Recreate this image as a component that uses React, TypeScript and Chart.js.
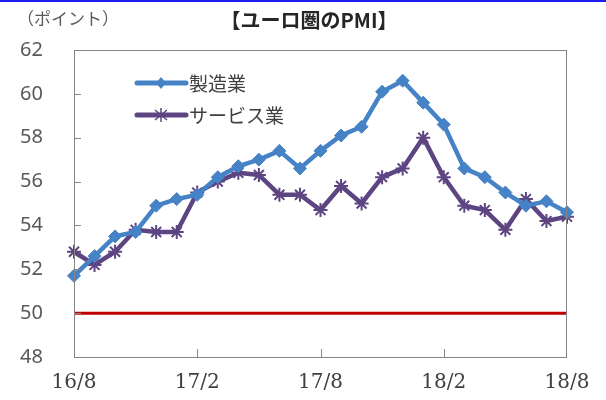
import React, { useEffect, useRef } from "react";
import { Chart, registerables } from "chart.js";

Chart.register(...registerables);

const categories = [
  "16/8", "16/9", "16/10", "16/11", "16/12",
  "17/1", "17/2", "17/3", "17/4", "17/5", "17/6", "17/7",
  "17/8", "17/9", "17/10", "17/11", "17/12",
  "18/1", "18/2", "18/3", "18/4", "18/5", "18/6", "18/7", "18/8",
];
const manufacturing = [
  51.7, 52.6, 53.5, 53.7, 54.9, 55.2, 55.4, 56.2, 56.7, 57.0, 57.4, 56.6,
  57.4, 58.1, 58.5, 60.1, 60.6, 59.6, 58.6, 56.6, 56.2, 55.5, 54.9, 55.1, 54.6,
];
const services = [
  52.8, 52.2, 52.8, 53.8, 53.7, 53.7, 55.5, 56.0, 56.4, 56.3, 55.4, 55.4,
  54.7, 55.8, 55.0, 56.2, 56.6, 58.0, 56.2, 54.9, 54.7, 53.8, 55.2, 54.2, 54.4,
];
const threshold = categories.map(() => 50);
const shownTickLabels = ["16/8", "17/2", "17/8", "18/2", "18/8"];
const seriesNames = ["製造業", "サービス業"];
const title = "【ユーロ圏のPMI】";
const unitLabel = "（ポイント）";

const BLUE = "#4583C6";
const PURPLE = "#5C4580";
const RED = "#C00000";
const JP = "'Noto Sans CJK JP', sans-serif";

const decorPlugin = {
  id: "decor",
  afterDraw(chart: any) {
    const ctx = chart.ctx;
    const a = chart.chartArea;
    const xs = chart.scales.x;
    const ys = chart.scales.y;
    ctx.save();
    // top blue rule
    ctx.fillStyle = "#1E1EF0";
    ctx.fillRect(0, 0, chart.width, 2);
    // frame
    ctx.strokeStyle = "#868686";
    ctx.lineWidth = 1;
    ctx.strokeRect(Math.round(a.left) + 0.5, Math.round(a.top) + 0.5,
      Math.round(a.right - a.left) - 1, Math.round(a.bottom - a.top));
    // inner y ticks
    ctx.beginPath();
    for (let v = 48; v <= 62; v += 2) {
      const y = Math.round(ys.getPixelForValue(v)) + 0.5;
      ctx.moveTo(a.left, y);
      ctx.lineTo(a.left + 7, y);
    }
    // inner x ticks
    categories.forEach((c, i) => {
      if (shownTickLabels.includes(c) && i !== 0 && i !== categories.length - 1) {
        const x = Math.round(xs.getPixelForValue(i)) + 0.5;
        ctx.moveTo(x, a.bottom);
        ctx.lineTo(x, a.bottom - 8);
      }
    });
    ctx.stroke();
    // title
    ctx.fillStyle = "#262626";
    ctx.font = `bold 20px ${JP}`;
    ctx.textAlign = "center";
    ctx.textBaseline = "middle";
    ctx.fillText(title, 309, 20);
    // unit
    ctx.fillStyle = "#595959";
    ctx.font = `17px ${JP}`;
    ctx.textAlign = "left";
    ctx.fillText(unitLabel, 17, 19);
    // legend
    const items = [
      { name: seriesNames[0], color: BLUE, y: 83, style: "diamond" },
      { name: seriesNames[1], color: PURPLE, y: 115, style: "star" },
    ];
    items.forEach((it) => {
      ctx.strokeStyle = it.color;
      ctx.lineWidth = 5;
      ctx.lineCap = "round";
      ctx.beginPath();
      ctx.moveTo(137, it.y);
      ctx.lineTo(186, it.y);
      ctx.stroke();
      const cx = 161;
      if (it.style === "diamond") {
        ctx.fillStyle = it.color;
        ctx.beginPath();
        ctx.moveTo(cx, it.y - 6);
        ctx.lineTo(cx + 5, it.y);
        ctx.lineTo(cx, it.y + 6);
        ctx.lineTo(cx - 5, it.y);
        ctx.closePath();
        ctx.fill();
      } else {
        ctx.lineWidth = 1.5;
        ctx.lineCap = "butt";
        ctx.strokeStyle = it.color;
        ctx.beginPath();
        ctx.moveTo(cx - 6, it.y - 5); ctx.lineTo(cx + 6, it.y + 5);
        ctx.moveTo(cx - 6, it.y + 5); ctx.lineTo(cx + 6, it.y - 5);
        ctx.moveTo(cx, it.y - 7); ctx.lineTo(cx, it.y + 7);
        ctx.stroke();
      }
      ctx.fillStyle = "#404040";
      ctx.font = `19px ${JP}`;
      ctx.textAlign = "left";
      ctx.textBaseline = "middle";
      ctx.fillText(it.name, 189, it.y + 1);
    });
    ctx.restore();
  },
};

export default function App() {
  const ref = useRef<HTMLCanvasElement | null>(null);
  useEffect(() => {
    if (!ref.current) return;
    const chart = new Chart(ref.current, {
      type: "line",
      data: {
        labels: categories,
        datasets: [
          {
            label: seriesNames[0],
            data: manufacturing,
            borderColor: BLUE,
            backgroundColor: BLUE,
            borderWidth: 4.5,
            pointStyle: "rectRot",
            pointRadius: 6.5,
            pointBorderWidth: 1,
            tension: 0,
          },
          {
            label: seriesNames[1],
            data: services,
            borderColor: PURPLE,
            backgroundColor: PURPLE,
            borderWidth: 4.5,
            pointStyle: "star",
            pointRadius: 7,
            pointBorderWidth: 2,
            tension: 0,
          },
          {
            label: "50",
            data: threshold,
            borderColor: RED,
            borderWidth: 3,
            pointRadius: 0,
            tension: 0,
          },
        ],
      },
      options: {
        responsive: false,
        animation: false,
        events: [],
        layout: { padding: { left: 0, top: 50, right: 39, bottom: 0 } },
        plugins: { legend: { display: false }, tooltip: { enabled: false } },
        scales: {
          x: {
            grid: { display: false, drawTicks: false },
            border: { display: false },
            afterFit: (s: any) => { s.height = 43; },
            ticks: {
              autoSkip: false,
              maxRotation: 0,
              padding: 14,
              color: "#404040",
              font: { family: "'DejaVu Serif', serif", size: 20 },
              callback: (_v: any, i: number) =>
                shownTickLabels.includes(categories[i]) ? categories[i] : "",
            },
          },
          y: {
            min: 48,
            max: 62,
            grid: { display: false, drawTicks: false },
            border: { display: false },
            afterFit: (s: any) => { s.width = 74; },
            ticks: {
              stepSize: 2,
              padding: 31,
              color: "#595959",
              font: { family: "'Noto Sans', sans-serif", size: 20 },
            },
          },
        },
      },
      plugins: [decorPlugin],
    });
    return () => chart.destroy();
  }, []);
  return (
    <div style={{ position: "fixed", left: 0, top: 0, width: 606, height: 400, background: "#fff" }}>
      <canvas ref={ref} width={606} height={400} />
    </div>
  );
}
